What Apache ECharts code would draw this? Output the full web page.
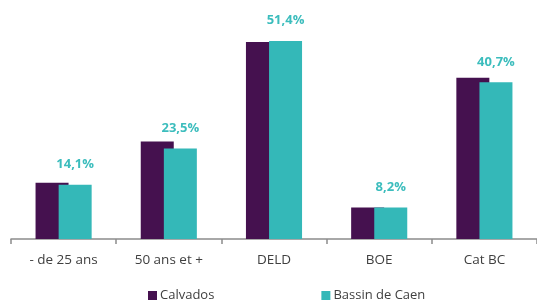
<!DOCTYPE html>
<html>
<head>
<meta charset="utf-8">
<script src="https://cdn.jsdelivr.net/npm/echarts@6/dist/echarts.min.js"></script>
<style>
  html, body { margin: 0; padding: 0; background: #ffffff; }
  #chart { width: 537px; height: 300px; }
</style>
</head>
<body>
<div id="chart"></div>
<script>
var categories = ['- de 25 ans', '50 ans et +', 'DELD', 'BOE', 'Cat BC']
var calvados = [14.6, 25.3, 51.2, 8.2, 41.9]
var bassinCaen = [14.1, 23.5, 51.4, 8.2, 40.7]

var myChart = echarts.init(document.getElementById('chart'))
var font = '"Open Sans", "Liberation Sans", sans-serif'

var option = {
  backgroundColor: '#ffffff',
  animation: false,
  legend: {
    left: 143,
    top: 284,
    itemWidth: 9,
    itemHeight: 9,
    itemGap: 107,
    icon: 'rect',
    textStyle: { fontFamily: font, fontSize: 13, color: '#404040', padding: [0, 0, 0, -2] },
    data: ['Calvados', 'Bassin de Caen']
  },
  grid: {
    left: 11,
    right: 0,
    top: 8,
    bottom: 61
  },
  xAxis: {
    type: 'category',
    data: categories,
    axisLine: { lineStyle: { color: '#8c8c8c', width: 1.5 } },
    axisTick: { show: true, length: 5, lineStyle: { color: '#8c8c8c', width: 1.5 } },
    axisLabel: { fontFamily: font, fontSize: 13.5, color: '#404040', margin: 14 }
  },
  yAxis: {
    type: 'value',
    min: 0,
    max: 60,
    show: false,
    splitLine: { show: false }
  },
  series: [
    {
      name: 'Calvados',
      type: 'bar',
      data: calvados,
      barWidth: 33,
      barGap: '-30%',
      itemStyle: { color: '#45114f' }
    },
    {
      name: 'Bassin de Caen',
      type: 'bar',
      data: bassinCaen,
      barWidth: 33,
      itemStyle: { color: '#34b8b8' },
      label: {
        show: true,
        position: 'top',
        distance: 14,
        fontFamily: font,
        fontSize: 13,
        fontWeight: 'bold',
        color: '#3cbdbd',
        formatter: function(p) {
          return p.value.toFixed(1).replace('.', ',') + '%'
        }
      }
    }
  ]
}

myChart.setOption(option, true)
window.addEventListener('resize', () => {
  myChart.resize()
})
</script>
</body>
</html>
